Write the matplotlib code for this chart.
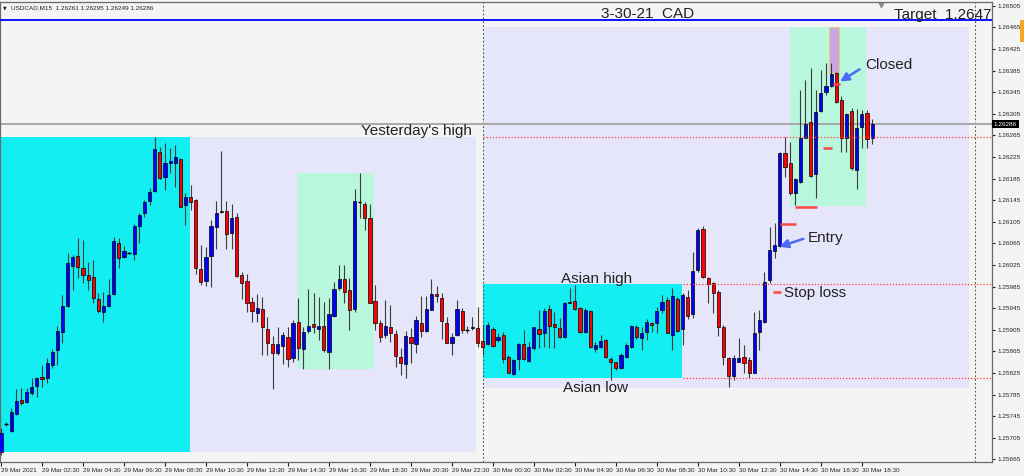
import numpy as np
import matplotlib
matplotlib.use("Agg")
import matplotlib.pyplot as plt
import matplotlib.transforms as mtransforms
from matplotlib.patches import Rectangle

plt.rcParams['font.family'] = ['Liberation Sans', 'DejaVu Sans']

# === USDCAD M15 candles, 29 Mar 00:30 -> 30 Mar 19:00 (bar 0 = 29 Mar 00:30) ===
opens = [
    1.25679, 1.25731, 1.25718, 1.25749, 1.25775, 1.25771, 1.25788, 1.25801, 1.25818, 1.25816,
    1.25840, 1.25868, 1.25901, 1.25949, 1.26023, 1.26042, 1.26020, 1.26007, 1.26003, 1.25962,
    1.25938, 1.25949, 1.25971, 1.26066, 1.26040, 1.26047, 1.26046, 1.26097, 1.26121, 1.26144,
    1.26162, 1.26234, 1.26188, 1.26214, 1.26214, 1.26221, 1.26136, 1.26151, 1.26146, 1.26018,
    1.25996, 1.26042, 1.26096, 1.26125, 1.26125, 1.26084, 1.26114, 1.26007, 1.25996, 1.25957,
    1.25936, 1.25944, 1.25907, 1.25879, 1.25862, 1.25875, 1.25892, 1.25853, 1.25920, 1.25870,
    1.25903, 1.25916, 1.25907, 1.25912, 1.25864, 1.25931, 1.25983, 1.25999, 1.25979, 1.25944,
    1.26142, 1.26138, 1.26112, 1.25959, 1.25918, 1.25896, 1.25910, 1.25897, 1.25855, 1.25842,
    1.25892, 1.25879, 1.25918, 1.25903, 1.25942, 1.25971, 1.25964, 1.25918, 1.25881, 1.25896,
    1.25940, 1.25905, 1.25909, 1.25909, 1.25884, 1.25879, 1.25907, 1.25886, 1.25896, 1.25855,
    1.25823, 1.25851, 1.25879, 1.25847, 1.25871, 1.25907, 1.25899, 1.25944, 1.25916, 1.25909,
    1.25892, 1.25957, 1.25959, 1.25946, 1.25901, 1.25940, 1.25870, 1.25873, 1.25886, 1.25851,
    1.25846, 1.25834, 1.25855, 1.25873, 1.25910, 1.25890, 1.25901, 1.25918, 1.25918, 1.25942,
    1.25960, 1.25896, 1.25962, 1.25907, 1.25966, 1.25934, 1.26016, 1.26092, 1.26001, 1.25992,
    1.25975, 1.25910, 1.25853, 1.25820, 1.25846, 1.25855, 1.25849, 1.25825, 1.25901, 1.25920,
    1.25997, 1.26051, 1.26060, 1.26233, 1.26214, 1.26159, 1.26179, 1.26260, 1.26290, 1.26194,
    1.26310, 1.26346, 1.26357, 1.26381, 1.26331, 1.26260, 1.26310, 1.26201, 1.26281, 1.26307,
    1.26261,
]
highs = [
    1.25723, 1.25734, 1.25760, 1.25796, 1.25797, 1.25797, 1.25816, 1.25818, 1.25840, 1.25853,
    1.25870, 1.25912, 1.25970, 1.26047, 1.26044, 1.26075, 1.26071, 1.26031, 1.26034, 1.25973,
    1.25975, 1.25999, 1.26077, 1.26075, 1.26060, 1.26049, 1.26101, 1.26121, 1.26146, 1.26168,
    1.26262, 1.26244, 1.26251, 1.26242, 1.26247, 1.26223, 1.26159, 1.26173, 1.26147, 1.26062,
    1.26059, 1.26109, 1.26144, 1.26236, 1.26144, 1.26138, 1.26121, 1.26012, 1.26009, 1.25966,
    1.25971, 1.25966, 1.25929, 1.25894, 1.25910, 1.25901, 1.25910, 1.25923, 1.25964, 1.25910,
    1.25981, 1.25973, 1.25966, 1.25957, 1.25964, 1.25994, 1.26025, 1.26025, 1.26001, 1.26166,
    1.26196, 1.26142, 1.26138, 1.25988, 1.25923, 1.25960, 1.25951, 1.25905, 1.25871, 1.25903,
    1.25909, 1.25931, 1.25968, 1.25968, 1.25999, 1.25986, 1.25973, 1.25929, 1.25899, 1.25960,
    1.25946, 1.25912, 1.25929, 1.25947, 1.25914, 1.25920, 1.25910, 1.25899, 1.25901, 1.25859,
    1.25851, 1.25881, 1.25905, 1.25883, 1.25910, 1.25942, 1.25946, 1.25951, 1.25938, 1.25927,
    1.25957, 1.25983, 1.25988, 1.25947, 1.25946, 1.25942, 1.25883, 1.25896, 1.25888, 1.25855,
    1.25846, 1.25862, 1.25881, 1.25914, 1.25914, 1.25910, 1.25925, 1.25920, 1.25947, 1.25970,
    1.25966, 1.25983, 1.25966, 1.25973, 1.25979, 1.26049, 1.26094, 1.26097, 1.26003, 1.25994,
    1.25979, 1.25914, 1.25855, 1.25859, 1.25890, 1.25877, 1.25855, 1.25938, 1.25942, 1.26012,
    1.26096, 1.26103, 1.26234, 1.26262, 1.26253, 1.26186, 1.26349, 1.26368, 1.26390, 1.26349,
    1.26386, 1.26399, 1.26399, 1.26383, 1.26338, 1.26307, 1.26316, 1.26314, 1.26312, 1.26312,
    1.26295,
]
lows = [
    1.25673, 1.25727, 1.25716, 1.25747, 1.25766, 1.25770, 1.25784, 1.25781, 1.25799, 1.25807,
    1.25834, 1.25840, 1.25881, 1.25947, 1.25979, 1.26001, 1.25992, 1.25979, 1.25955, 1.25936,
    1.25920, 1.25947, 1.25970, 1.26020, 1.26038, 1.26046, 1.26034, 1.26066, 1.26114, 1.26136,
    1.26160, 1.26184, 1.26164, 1.26196, 1.26170, 1.26133, 1.26099, 1.26127, 1.26009, 1.25988,
    1.25986, 1.25984, 1.26055, 1.26121, 1.26055, 1.26055, 1.26003, 1.25962, 1.25938, 1.25920,
    1.25920, 1.25859, 1.25859, 1.25796, 1.25859, 1.25842, 1.25836, 1.25846, 1.25849, 1.25833,
    1.25899, 1.25899, 1.25886, 1.25864, 1.25833, 1.25929, 1.25979, 1.25955, 1.25905, 1.25938,
    1.26112, 1.26090, 1.25955, 1.25905, 1.25883, 1.25890, 1.25883, 1.25836, 1.25821, 1.25816,
    1.25844, 1.25862, 1.25892, 1.25901, 1.25942, 1.25957, 1.25888, 1.25881, 1.25859, 1.25894,
    1.25899, 1.25899, 1.25905, 1.25873, 1.25859, 1.25877, 1.25873, 1.25883, 1.25844, 1.25825,
    1.25821, 1.25831, 1.25849, 1.25846, 1.25868, 1.25871, 1.25873, 1.25871, 1.25871, 1.25890,
    1.25890, 1.25955, 1.25942, 1.25899, 1.25899, 1.25871, 1.25864, 1.25871, 1.25853, 1.25812,
    1.25831, 1.25833, 1.25853, 1.25871, 1.25888, 1.25868, 1.25886, 1.25901, 1.25899, 1.25936,
    1.25899, 1.25868, 1.25901, 1.25877, 1.25925, 1.25927, 1.26012, 1.26001, 1.25955, 1.25936,
    1.25894, 1.25840, 1.25799, 1.25812, 1.25846, 1.25825, 1.25816, 1.25825, 1.25868, 1.25918,
    1.25992, 1.26038, 1.26059, 1.26188, 1.26155, 1.26136, 1.26177, 1.26260, 1.26188, 1.26149,
    1.26309, 1.26340, 1.26355, 1.26325, 1.26234, 1.26234, 1.26201, 1.26166, 1.26242, 1.26242,
    1.26249,
]
closes = [
    1.25714, 1.25731, 1.25753, 1.25773, 1.25770, 1.25790, 1.25799, 1.25816, 1.25814, 1.25844,
    1.25864, 1.25903, 1.25949, 1.26029, 1.26040, 1.26021, 1.26007, 1.25997, 1.25964, 1.25940,
    1.25949, 1.25970, 1.26070, 1.26038, 1.26051, 1.26047, 1.26097, 1.26118, 1.26142, 1.26160,
    1.26240, 1.26186, 1.26214, 1.26218, 1.26225, 1.26133, 1.26151, 1.26142, 1.26020, 1.25994,
    1.26040, 1.26097, 1.26121, 1.26123, 1.26083, 1.26112, 1.26005, 1.25992, 1.25955, 1.25940,
    1.25946, 1.25910, 1.25881, 1.25862, 1.25879, 1.25896, 1.25851, 1.25918, 1.25871, 1.25901,
    1.25912, 1.25910, 1.25912, 1.25868, 1.25934, 1.25981, 1.25999, 1.25975, 1.25942, 1.26144,
    1.26142, 1.26112, 1.25955, 1.25918, 1.25892, 1.25912, 1.25899, 1.25857, 1.25844, 1.25894,
    1.25881, 1.25923, 1.25903, 1.25944, 1.25971, 1.25968, 1.25922, 1.25881, 1.25892, 1.25944,
    1.25905, 1.25905, 1.25910, 1.25881, 1.25873, 1.25914, 1.25875, 1.25892, 1.25851, 1.25825,
    1.25849, 1.25879, 1.25851, 1.25873, 1.25910, 1.25897, 1.25940, 1.25912, 1.25910, 1.25892,
    1.25955, 1.25955, 1.25944, 1.25901, 1.25942, 1.25873, 1.25877, 1.25884, 1.25855, 1.25846,
    1.25834, 1.25859, 1.25877, 1.25912, 1.25892, 1.25899, 1.25920, 1.25914, 1.25940, 1.25957,
    1.25899, 1.25968, 1.25903, 1.25970, 1.25931, 1.26014, 1.26090, 1.26003, 1.25990, 1.25973,
    1.25910, 1.25855, 1.25820, 1.25853, 1.25853, 1.25844, 1.25825, 1.25899, 1.25923, 1.25994,
    1.26053, 1.26062, 1.26233, 1.26207, 1.26159, 1.26184, 1.26260, 1.26286, 1.26190, 1.26309,
    1.26344, 1.26357, 1.26379, 1.26327, 1.26260, 1.26305, 1.26205, 1.26279, 1.26305, 1.26259,
    1.26286,
]

# x labels every 8 bars (2 hours)
x_tick_labels = [
    "29 Mar 2021", "29 Mar 02:30", "29 Mar 04:30", "29 Mar 06:30", "29 Mar 08:30",
    "29 Mar 10:30", "29 Mar 12:30", "29 Mar 14:30", "29 Mar 16:30", "29 Mar 18:30",
    "29 Mar 20:30", "29 Mar 22:30", "30 Mar 00:30", "30 Mar 02:30", "30 Mar 04:30",
    "30 Mar 06:30", "30 Mar 08:30", "30 Mar 10:30", "30 Mar 12:30", "30 Mar 14:30",
    "30 Mar 16:30", "30 Mar 18:30",
]

# price levels
target_level = 1.26479
yesterday_high = 1.26262
asian_high = 1.25990
asian_low = 1.25816
bid_price = 1.26286
day_separators = [94, 190]   # bars of 30 Mar 00:00 and 31 Mar 00:00

# boxes: (first bar, last bar, low, high, colour)
boxes = [
    (-2.0, 36.9, 1.25679, 1.26262, "#12eef2"),
    (36.9, 92.7, 1.25679, 1.26262, "#e6e6fa"),
    (94.0, 188.9, 1.25797, 1.26466, "#e6e6fa"),
    (94.0, 132.9, 1.25816, 1.25990, "#12eef2"),
    (57.8, 72.8, 1.25833, 1.26196, "#b8f7dd"),
    (153.9, 168.8, 1.26134, 1.26466, "#b8f7dd"),
]
closed_box = (161.6, 163.5, 1.26381, 1.26466)

# short red order marks: (from bar, to bar, price)
order_marks = [
    (150.6, 152.2, 1.25975),
    (152.0, 155.1, 1.26101),
    (154.9, 159.2, 1.26133),
    (160.4, 162.1, 1.26242),
    (162.3, 163.7, 1.26360),
]

# === Figure ===
BG = "#f4f4f4"
fig = plt.figure(figsize=(10.24, 4.76), dpi=100, facecolor=BG)
ax = fig.add_axes([0.0, 14 / 476, 992 / 1024, 460 / 476], facecolor=BG)
ax.set_xlim(-0.195, 193.4)
ax.set_ylim(1.25660, 1.26512)

for x0, x1, lo, hi, col in boxes:
    ax.add_patch(Rectangle((x0, lo), x1 - x0, hi - lo, facecolor=col, edgecolor="none", zorder=1))
ax.add_patch(Rectangle((closed_box[0], closed_box[2]), closed_box[1] - closed_box[0],
                       closed_box[3] - closed_box[2], facecolor="#c9a6e2",
                       edgecolor="#e2d27a", lw=0.8, zorder=2))

for d in day_separators:
    ax.axvline(d, color="#505050", lw=0.8, ls=(0, (1.5, 2)), zorder=1.5)

# candles
o, h, l, c = map(np.array, (opens, highs, lows, closes))
x = np.arange(len(o))
up, down, flat = c > o, c < o, c == o
body_lo = np.minimum(o, c)
body_h = np.abs(c - o)
ax.vlines(x, l, h, color="#3c3c3c", lw=0.8, zorder=3)
ax.bar(x[up], body_h[up], bottom=body_lo[up], width=0.62, color="#0000ff",
       edgecolor="black", lw=0.5, zorder=4)
ax.bar(x[down], body_h[down], bottom=body_lo[down], width=0.62, color="#ff0000",
       edgecolor="black", lw=0.5, zorder=4)
ax.hlines(o[flat], x[flat] - 0.35, x[flat] + 0.35, color="black", lw=1.0, zorder=4)

# levels
ax.axhline(target_level, color="#0000ff", lw=1.3, zorder=5)
ax.axhline(bid_price, color="#a8a8a8", lw=1.4, zorder=2.5)
dotted = dict(color="#ff3b3b", lw=0.9, ls=(0, (1, 1.5)), zorder=5)
ax.hlines(yesterday_high, 94, 193.4, **dotted)
ax.hlines([asian_high, asian_low], 133, 193.4, **dotted)

for b0, b1, p in order_marks:
    ax.hlines(p, b0, b1, color="#ff4444", lw=1.8, zorder=6)

# labels
txt = dict(fontsize=11, color="#222222", va="baseline", zorder=7)
ax.text(91.9, 1.26266, "Yesterday's high", ha="right", **txt)
ax.text(126.2, 1.26483, "3-30-21  CAD", ha="center", **txt)
ax.text(193.3, 1.26481, "Target  1.2647", ha="right", **txt)
ax.text(168.6, 1.26388, "Closed", ha="left", **txt)
ax.text(109.3, 1.25992, "Asian high", ha="left", **txt)
ax.text(109.7, 1.25790, "Asian low", ha="left", **txt)
ax.text(157.5, 1.26068, "Entry", ha="left", **txt)
ax.text(152.8, 1.25966, "Stop loss", ha="left", **txt)

arrow = dict(arrowstyle="-|>,head_length=0.5,head_width=0.25", color="#4a6cf5", lw=1.8)
ax.annotate("", xy=(163.3, 1.26362), xytext=(168.0, 1.26390), arrowprops=arrow, zorder=7)
ax.annotate("", xy=(151.4, 1.26057), xytext=(157.1, 1.26075), arrowprops=arrow, zorder=7)

# axes styling (MT4 look)
ax.yaxis.tick_right()
yticks = np.arange(1.25665, 1.26506, 0.0004)
ax.set_yticks(yticks)
ax.set_yticklabels([f"{v:.5f}" for v in yticks])
ax.set_xticks(np.arange(0, 8 * len(x_tick_labels), 8))
ax.set_xticklabels(x_tick_labels)
for lbl in ax.get_xticklabels():
    lbl.set_ha("left")
ax.tick_params(axis="y", labelsize=4.6, length=2, pad=2, colors="#222222")
ax.tick_params(axis="x", labelsize=4.6, length=3, pad=1, colors="#222222")
for s in ax.spines.values():
    s.set_color("#6a6a6a")
    s.set_linewidth(0.9)

# current price tag on the price scale
tr = mtransforms.blended_transform_factory(ax.transAxes, ax.transData)
ax.text(1.002, bid_price, "1.26286", transform=tr, fontsize=4.6, color="white",
        va="center", ha="left", zorder=8, clip_on=False,
        bbox=dict(boxstyle="square,pad=0.25", fc="black", ec="none"))
ax.plot(171.7, 1.26507, marker="v", color="#8a8a8a", ms=3, clip_on=False, zorder=8)

fig.text(3 / 1024, 1 - 9 / 476, "\u25bc", fontsize=3.5, color="#222222", va="baseline",
         family="DejaVu Sans")
fig.text(11 / 1024, 1 - 9 / 476, "USDCAD,M15  1.26261 1.26295 1.26249 1.26286",
         fontsize=4.6, color="#222222", va="baseline")
fig.patches.append(Rectangle((1020 / 1024, 1 - 42 / 476), 4 / 1024, 22 / 476,
                             transform=fig.transFigure, facecolor="#f5a623", edgecolor="none"))

fig.savefig("out.png", dpi=100, facecolor=BG)
